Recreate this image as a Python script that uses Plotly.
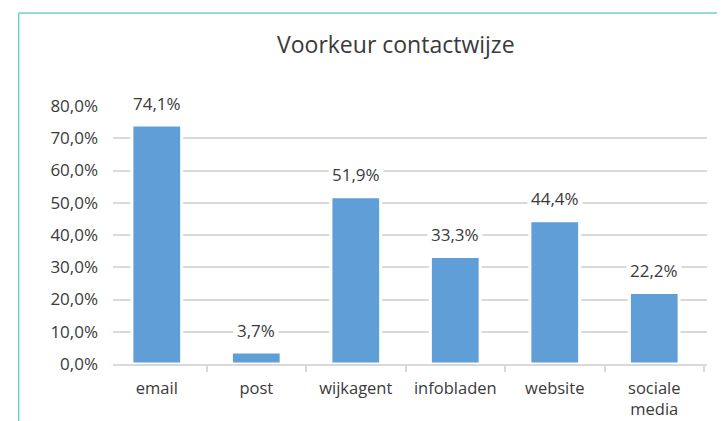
import plotly.graph_objects as go

categories = ["email", "post", "wijkagent", "infobladen", "website", "sociale<br>media"]
values = [0.741, 0.037, 0.519, 0.333, 0.444, 0.222]
title_text = "Voorkeur contactwijze"

FONT = "Open Sans"
TXT = "#3a3a3a"
BAR = "#5f9ed7"
GRID = "#d9d9d9"
FRAME = "#6fcfcf"

# the page body has an 8px default margin; compensate so the figure lands at window coords
OFF = 8
W, H = 725 - OFF, 421 - OFF
# plot area geometry in window pixels, converted to figure pixels
PX0, PX1, PY0, PY1 = 113.3 - OFF, 707.3 - OFF, 106 - OFF, 364.3 - OFF


def px_x(px):
    return (px - OFF - PX0) / (PX1 - PX0)


def px_y(py):
    return (PY1 - (py - OFF)) / (PY1 - PY0)


fig = go.Figure()
fig.add_trace(go.Bar(
    x=categories,
    y=values,
    width=0.5,
    marker=dict(color=BAR, line=dict(color="white", width=3)),
    hoverinfo="skip",
))

for c, v in zip(categories, values):
    fig.add_annotation(
        x=c, y=v, xref="x", yref="y",
        text=f"{v * 100:.1f}%".replace(".", ","),
        showarrow=False, yanchor="middle", yshift=22,
        bgcolor="white", borderpad=3,
        font=dict(family=FONT, size=17, color=TXT),
    )

fig.add_annotation(
    x=px_x(396), y=px_y(44), xref="paper", yref="paper",
    text=title_text, showarrow=False, xanchor="center", yanchor="middle",
    font=dict(family=FONT, size=23, color=TXT),
)

fig.update_layout(
    width=W, height=H,
    margin=dict(l=PX0, r=W - PX1, t=PY0, b=H - PY1, pad=0, autoexpand=False),
    paper_bgcolor="white", plot_bgcolor="white",
    separators=",.",
    showlegend=False,
    font=dict(family=FONT, size=17, color=TXT),
    shapes=[
        dict(type="line", xref="paper", yref="paper",
             x0=px_x(19), x1=px_x(19), y0=px_y(13), y1=px_y(450),
             line=dict(color=FRAME, width=1.5)),
        dict(type="line", xref="paper", yref="paper",
             x0=px_x(19), x1=px_x(760), y0=px_y(13), y1=px_y(13),
             line=dict(color=FRAME, width=1.5)),
    ],
    xaxis=dict(
        type="category",
        range=[-0.44, 5.53],
        automargin=False,
        showgrid=False,
        showline=True, linecolor=GRID, linewidth=1.5,
        ticks="outside", tickson="boundaries", ticklen=6, tickcolor=GRID, tickwidth=1.5,
        ticklabelstandoff=8,
        tickfont=dict(family=FONT, size=16.5, color=TXT),
    ),
    yaxis=dict(
        range=[0, 0.8001],
        automargin=False,
        dtick=0.1, tick0=0,
        tickformat=".1%",
        showgrid=True, gridcolor=GRID, gridwidth=1.5,
        zeroline=False, showline=False,
        ticks="", ticklabelstandoff=14,
        tickfont=dict(family=FONT, size=17, color=TXT),
    ),
)

fig.write_html("out.html")
